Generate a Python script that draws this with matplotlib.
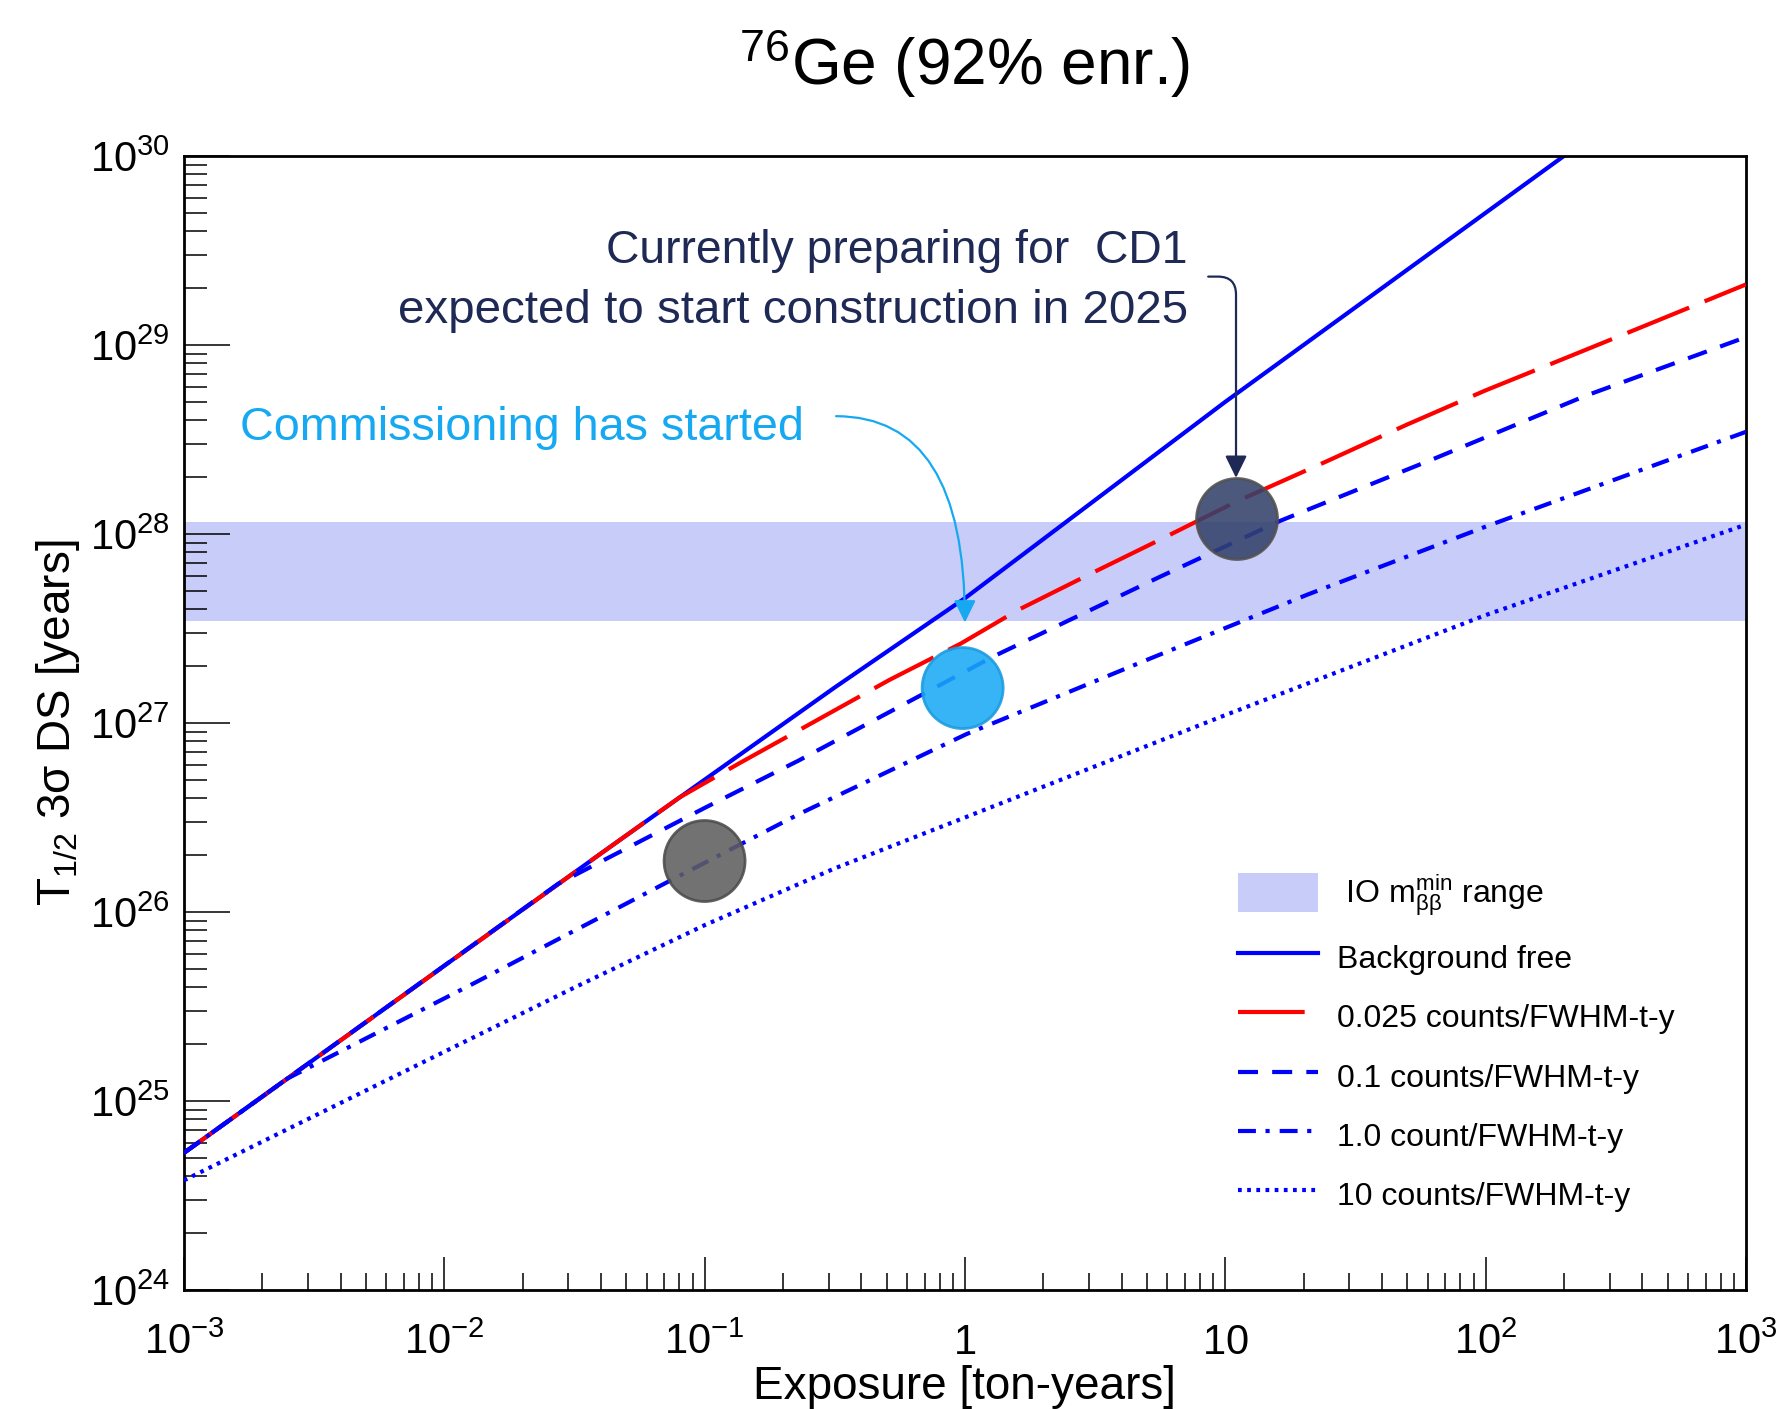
import numpy as np
import matplotlib
matplotlib.use('Agg')
import matplotlib.pyplot as plt
from matplotlib.ticker import LogLocator, NullFormatter

plt.rcParams['font.family'] = ['Liberation Sans', 'DejaVu Sans']
plt.rcParams['mathtext.fontset'] = 'custom'
plt.rcParams['mathtext.rm'] = 'Liberation Sans'
plt.rcParams['mathtext.it'] = 'Liberation Sans:italic'
plt.rcParams['mathtext.bf'] = 'Liberation Sans:bold'

# exposure [ton-years] vs 3 sigma discovery half-life [years]
bkg_free_x = [1e-3, 1e-2, 0.04, 0.1, 0.316, 1, 2.33, 10, 100, 200, 1000]
bkg_free_y = [5.31e24, 5.19e25, 2.04e26, 5.01e26, 1.54e27, 4.57e27, 1.10e28, 5.0e28, 5.0e29, 1.0e30, 5.0e30]

bkg_0025_x = [1e-3, 0.04, 0.08, 0.136, 0.264, 0.513, 0.964, 1.6, 3.15, 5.62, 11, 24.8, 49.9, 100, 202, 407, 1000]
bkg_0025_y = [5.31e24, 2.04e26, 4.03e26, 6.12e26, 1.016e27, 1.69e27, 2.63e27, 3.96e27, 6.31e27, 9.33e27,
              1.48e28, 2.44e28, 3.79e28, 5.75e28, 8.51e28, 1.26e29, 2.09e29]

bkg_01_x = [1e-3, 0.0274, 0.1, 0.229, 1.28, 5.62, 16.3, 63.8, 241, 1000]
bkg_01_y = [5.31e24, 1.41e26, 3.55e26, 6.31e26, 2.24e27, 5.94e27, 1.175e28, 2.51e28, 5.37e28, 1.10e29]

bkg_1_x = [1e-3, 2.5e-3, 0.0129, 0.0724, 0.232, 1.01, 5.14, 20.8, 100.5, 1000]
bkg_1_y = [5.31e24, 1.315e25, 4.17e25, 1.445e26, 3.31e26, 8.71e26, 2.19e27, 4.79e27, 1.096e28, 3.47e28]

bkg_10_x = [1e-3, 1e-2, 0.0316, 0.1, 0.316, 1, 10, 100, 1000]
bkg_10_y = [3.80e24, 1.82e25, 3.98e25, 8.51e25, 1.70e26, 3.16e26, 1.10e27, 3.72e27, 1.12e28]

io_band = [3.46e27, 1.15e28]

milestone_x = [0.1, 0.98, 11.1]
milestone_y = [1.86e26, 1.53e27, 1.2e28]
milestone_fc = ['#5e5e5e', '#1aaaf5', '#33426b']
milestone_ec = ['#4c4c4c', '#1a9be0', '#505050']

x_ticks = [1e-3, 1e-2, 1e-1, 1, 10, 1e2, 1e3]
x_ticklabels = [r'$10^{-3}$', r'$10^{-2}$', r'$10^{-1}$', r'$1$', r'$10$', r'$10^{2}$', r'$10^{3}$']
y_ticks = [1e24, 1e25, 1e26, 1e27, 1e28, 1e29, 1e30]
y_ticklabels = [r'$10^{%d}$' % k for k in range(24, 31)]

navy = '#1e2a55'
sky = '#16a9f2'

fig = plt.figure(figsize=(17.77, 14.09), dpi=100)
ax = fig.add_axes([0.1035, 0.0845, 0.879, 0.8048])

ax.axhspan(io_band[0], io_band[1], color='#c8ccf8', lw=0, zorder=1,
           label=r' IO $\mathrm{m}_{\mathrm{\beta\beta}}^{\mathrm{min}}$ range')

lw = 3.0
ax.plot(bkg_free_x, bkg_free_y, color='#0000ff', lw=lw, zorder=2, label='Background free')
ax.plot(bkg_0025_x, bkg_0025_y, color='#ff0000', lw=lw, dashes=(16, 4), zorder=3,
        label='0.025 counts/FWHM-t-y')
ax.plot(bkg_01_x, bkg_01_y, color='#0000ff', lw=lw, dashes=(4.8, 3.4), zorder=4,
        label='0.1 counts/FWHM-t-y')
ax.plot(bkg_1_x, bkg_1_y, color='#0000ff', lw=lw, dashes=(4.3, 2.3, 1, 2.4), zorder=5,
        label='1.0 count/FWHM-t-y')
ax.plot(bkg_10_x, bkg_10_y, color='#0000ff', lw=lw, dashes=(0.9, 1.3), zorder=6,
        label='10 counts/FWHM-t-y')

ax.scatter(milestone_x, milestone_y, s=3400, c=milestone_fc, edgecolors=milestone_ec,
           linewidths=2, alpha=0.88, zorder=10)

ax.set_xscale('log')
ax.set_yscale('log')
ax.set_xlim(1e-3, 1e3)
ax.set_ylim(1e24, 1e30)

ax.set_xticks(x_ticks, x_ticklabels)
ax.set_yticks(y_ticks, y_ticklabels)
for axis in (ax.xaxis, ax.yaxis):
    axis.set_minor_locator(LogLocator(base=10, subs=np.arange(2, 10), numticks=50))
    axis.set_minor_formatter(NullFormatter())
ax.tick_params(which='both', direction='in', top=False, right=False, color='black')
ax.tick_params(axis='y', which='major', length=33, width=1.1, labelsize=30, pad=10)
ax.tick_params(axis='y', which='minor', length=16.5, width=1.1)
ax.tick_params(axis='x', which='major', length=24, width=1.1, labelsize=30, pad=46)
ax.tick_params(axis='x', which='minor', length=12, width=1.1)
for lbl in ax.get_xticklabels():
    lbl.set_verticalalignment('baseline')
for sp in ax.spines.values():
    sp.set_linewidth(2)

ax.set_xlabel('Exposure [ton-years]', fontsize=33)
ax.set_ylabel('T$_{1/2}$ 3σ DS [years]', fontsize=33)
ax.xaxis.set_label_coords(0.5, -0.066)
ax.yaxis.set_label_coords(-0.065, 0.5)

fig.text(0.543, 0.9397, r'$^{76}$Ge (92% enr.)', fontsize=46, ha='center', va='baseline')

# annotations
ax.text(0.0359, 0.7496, 'Commissioning has started', color=sky, fontsize=33.7,
        transform=ax.transAxes, ha='left', va='baseline')
ax.text(0.6428, 0.9056, 'Currently preparing for  CD1', color=navy, fontsize=33.3,
        transform=ax.transAxes, ha='right', va='baseline')
ax.text(0.6428, 0.8527, 'expected to start construction in 2025', color=navy, fontsize=34.2,
        transform=ax.transAxes, ha='right', va='baseline')

ax.annotate('', xy=(1.0, 3.4e27), xytext=(0.32, 4.2e28),
            arrowprops=dict(arrowstyle='-|>,head_length=0.45,head_width=0.22', color=sky, lw=1.6,
                            connectionstyle='angle3,angleA=0,angleB=90', mutation_scale=30,
                            shrinkA=0, shrinkB=0), zorder=11)
ax.annotate('', xy=(11.0, 1.98e28), xytext=(8.6, 2.3e29),
            arrowprops=dict(arrowstyle='-|>,head_length=0.45,head_width=0.22', color=navy, lw=1.6,
                            connectionstyle='angle,angleA=0,angleB=90,rad=18', mutation_scale=30,
                            shrinkA=0, shrinkB=0), zorder=11)

ax.legend(loc='upper left', bbox_to_anchor=(0.675, 0.368), frameon=False, fontsize=23,
          handlelength=2.5, handleheight=1.5, handletextpad=0.6, labelspacing=0.63,
          borderpad=0, borderaxespad=0)

fig.savefig('out.png', dpi=100)
